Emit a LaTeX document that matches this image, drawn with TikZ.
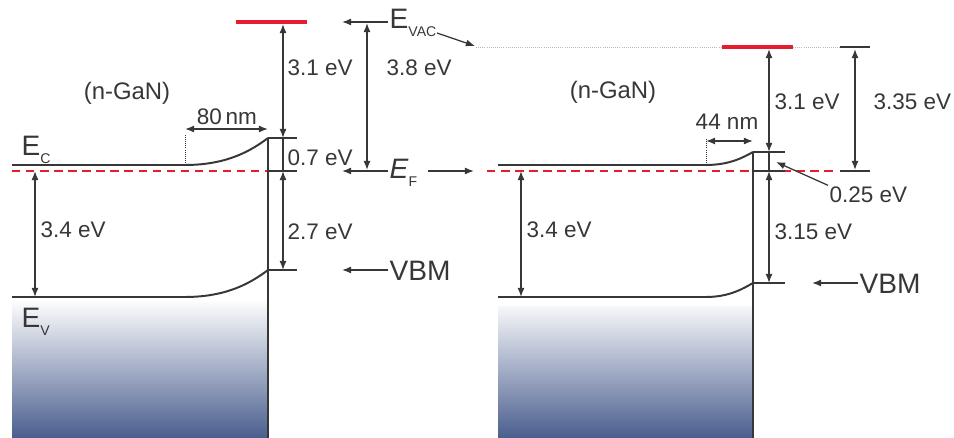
\documentclass[tikz,border=0pt]{standalone}
\usepackage{fontspec}
\setmainfont{Liberation Sans}
\usepackage{xcolor}
\usetikzlibrary{arrows.meta, positioning, calc}

\definecolor{vacred}{RGB}{232,28,48}
\definecolor{bulkblue}{RGB}{74,94,142}
\definecolor{inkgray}{RGB}{55,55,55}
\newcommand{\lowsub}[1]{\raisebox{-0.55ex}{\fontsize{10}{10}\selectfont #1}}

\begin{document}
\begin{tikzpicture}[
    x=0.025cm, y=-0.025cm,
    >={Latex[length=6.5pt,width=5pt]},
    band/.style={draw=inkgray, line width=1.4pt},
    tick/.style={draw=inkgray, line width=1.1pt},
    vac/.style={draw=vacred, line width=2.8pt},
    fermi/.style={draw=vacred, line width=1.1pt, dash pattern=on 6pt off 4pt},
    gap/.style={draw=inkgray, line width=0.9pt, <->},
    pointer/.style={draw=inkgray, line width=0.9pt, ->},
    guide/.style={draw=gray!55, line width=0.5pt, densely dotted},
    lbl/.style={font=\fontsize{16}{18}\selectfont, text=inkgray, inner sep=1pt, anchor=west},
    big/.style={font=\fontsize{20}{22}\selectfont, text=inkgray, inner sep=1pt},
    bulk/.style={top color=white, bottom color=bulkblue}
]
\useasboundingbox (0,0) rectangle (954,438);

% Bulk (valence band filled)
\shade[bulk] (12,299) rectangle (268,438);
\shade[bulk] (498,299) rectangle (753,438);
\fill[white] (498,299) rectangle (753,306);

% Coordinates, left panel
\coordinate (lec0) at (12,165);
\coordinate (lec1) at (185,165);
\coordinate (lecs) at (268,138);
\coordinate (lev0) at (12,297);
\coordinate (lev1) at (185,297);
\coordinate (levs) at (268,270);
\coordinate (lefs) at (268,171);
\coordinate (lbot) at (268,438);

% Coordinates, right panel
\coordinate (rec0) at (498,165);
\coordinate (rec1) at (706,165);
\coordinate (recs) at (753,152);
\coordinate (rev0) at (498,297);
\coordinate (rev1) at (706,297);
\coordinate (revs) at (753,283);
\coordinate (refs) at (753,171);
\coordinate (rbot) at (753,438);

% Left panel
\draw[fermi] (12,171) -- (lefs);
\draw[band] (lec0) -- (lec1) .. controls (228,165) and (252,150) .. (lecs);
\draw[band] (lev0) -- (lev1) .. controls (228,297) and (252,282) .. (levs);
\draw[band] (lecs) -- (lbot);
\draw[tick] (lecs) -- ++(29,0);
\draw[tick] (lefs) -- ++(29,0);
\draw[tick] (levs) -- ++(29,0);
\draw[vac] (236,22) -- (307,22);
\draw[gap] (283,24) -- (283,138);
\draw[tick, line width=0.9pt] (283,138) -- (283,171);
\draw[gap] (283,171) -- (283,270);
\draw[gap] (35,171) -- (35,297);
\draw[guide, draw=inkgray] (lec1) -- ++(0,-30);
\draw[gap] (185,129) -- (268,129);

\node[lbl] (lw) at (286,68) {3.1 eV};
\node[lbl] (lsb) at (286,158) {0.7 eV};
\node[lbl] (lvb) at (286,232) {2.7 eV};
\node[lbl] (lgap) at (39,230) {3.4 eV};
\node[lbl, anchor=center, inner sep=0pt] (lw80) at (227,117) {80\,nm};
\node[big, font=\fontsize{17}{19}\selectfont] (lname) at (127,93) {(n-GaN)};
\node[big, anchor=west] (lec) at (20,150) {E\lowsub{C}};
\node[big, anchor=west] (lev) at (20,322) {E\lowsub{V}};

% Middle labels
\node[big, anchor=west] (evac) at (388,23) {E\lowsub{VAC}};
\node[big, anchor=west] (ef) at (388,173) {\textit{E}\lowsub{F}};
\node[big, anchor=west] (vbm) at (388,271) {VBM};
\node[lbl] (mw) at (385,68) {3.8 eV};
\draw[pointer] (evac.west |- 0,22) -- (342,22);
\draw[pointer] (ef.west |- 0,171) -- (342,171);
\draw[pointer] (428,171) -- (474,171);
\draw[pointer] (vbm.west |- 0,270) -- (342,270);
\draw[gap] (367,23) -- (367,170);
\draw[pointer] (437,33) -- (475,46);

% Right panel
\draw[guide] (476,47) -- (722,47);
\draw[guide] (793,47) -- (840,47);
\draw[fermi] (487,171) -- (838,171);
\draw[band] (rec0) -- (rec1) .. controls (730,165) and (744,157) .. (recs);
\draw[band] (rev0) -- (rev1) .. controls (730,297) and (744,288) .. (revs);
\draw[band] (recs) -- (rbot);
\draw[tick] (recs) -- ++(32,0);
\draw[tick] (refs) -- ++(32,0);
\draw[tick] (revs) -- ++(32,0);
\draw[tick] (840,47) -- (870,47);
\draw[tick] (840,171) -- (870,171);
\draw[vac] (722,47) -- (793,47);
\draw[gap] (769,49) -- (769,152);
\draw[tick, line width=0.9pt] (769,152) -- (769,171);
\draw[gap] (769,171) -- (769,283);
\draw[gap] (855,49) -- (855,170);
\draw[gap] (521,171) -- (521,297);
\draw[guide, draw=inkgray] (rec1) -- ++(0,-26);
\draw[gap] (706,141) -- (753,141);

\node[lbl] (rw) at (773,102) {3.1 eV};
\node[lbl] (rphi) at (872,102) {3.35 eV};
\node[lbl] (rsb) at (828,195) {0.25 eV};
\node[lbl] (rvb) at (773,232) {3.15 eV};
\node[lbl] (rgap) at (525,230) {3.4 eV};
\node[lbl, anchor=center] (rw44) at (727,122) {44 nm};
\node[big, font=\fontsize{17}{19}\selectfont] (rname) at (613,92) {(n-GaN)};
\node[big, anchor=west] (rvbm) at (858,284) {VBM};
\draw[pointer] (rsb.north west) -- (776,162);
\draw[pointer] (rvbm.west |- 0,283) -- (812,283);

\end{tikzpicture}
\end{document}
